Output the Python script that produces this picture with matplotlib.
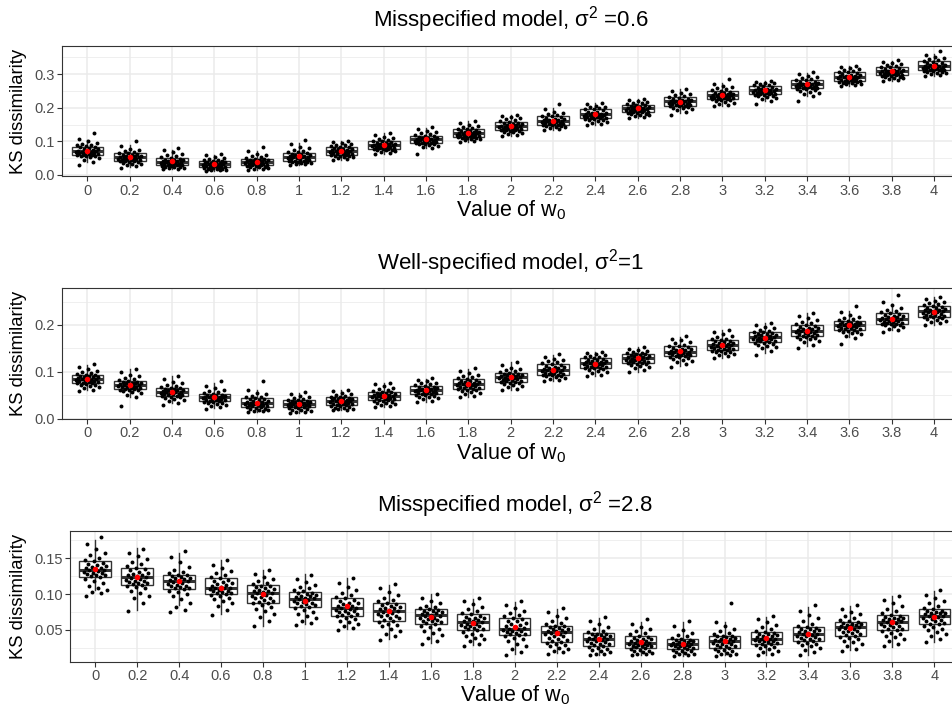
import numpy as np
import matplotlib
matplotlib.use("Agg")
import matplotlib.pyplot as plt

plt.rcParams['font.family'] = ['Liberation Sans', 'DejaVu Sans']
plt.rcParams['mathtext.default'] = 'regular'

w0 = ["0", "0.2", "0.4", "0.6", "0.8", "1", "1.2", "1.4", "1.6", "1.8", "2",
      "2.2", "2.4", "2.6", "2.8", "3", "3.2", "3.4", "3.6", "3.8", "4"]

# ---- panel 1: misspecified, sigma^2 = 0.6 ----
q1_a = [.059, .042, .029, .023, .029, .042, .059, .078, .095, .113, .134,
        .150, .169, .187, .206, .226, .240, .258, .279, .297, .312]
med_a = [.070, .053, .040, .032, .039, .054, .071, .089, .106, .125, .146,
         .162, .182, .198, .219, .238, .253, .270, .293, .309, .325]
q3_a = [.083, .064, .050, .042, .049, .065, .083, .100, .117, .136, .159,
        .175, .196, .209, .231, .251, .266, .283, .307, .322, .338]
wlo_a = [.040, .025, .017, .013, .015, .030, .045, .062, .080, .098, .115,
         .135, .150, .170, .185, .205, .220, .235, .265, .280, .295]
whi_a = [.105, .090, .075, .060, .072, .095, .100, .125, .140, .160, .180,
         .200, .215, .225, .255, .275, .280, .305, .325, .340, .360]
mean_a = [.071, .053, .041, .033, .040, .055, .071, .090, .107, .125, .145,
          .162, .181, .200, .218, .237, .252, .271, .291, .309, .324]
# jittered observations, in thousandths
pts_a = [
    [30, 40, 46, 50, 53, 55, 56, 57, 58, 59, 60, 62, 63, 64, 65, 66, 67, 68, 69, 70, 71, 72, 74, 76, 78, 80, 82, 84, 86, 88, 90, 93, 96, 100, 108, 125],
    [22, 26, 29, 32, 34, 36, 38, 40, 41, 42, 43, 44, 45, 46, 47, 48, 49, 50, 51, 52, 53, 54, 55, 56, 57, 58, 60, 62, 64, 66, 68, 71, 74, 78, 86, 100],
    [17, 19, 21, 22, 23, 24, 25, 26, 28, 29, 30, 31, 32, 33, 34, 35, 36, 37, 38, 39, 40, 41, 42, 43, 44, 45, 46, 48, 50, 52, 55, 58, 62, 67, 74, 80],
    [13, 14, 15, 16, 17, 18, 19, 20, 22, 23, 24, 25, 26, 27, 28, 29, 30, 31, 32, 33, 34, 35, 36, 37, 38, 39, 40, 41, 42, 44, 46, 48, 51, 54, 58, 63],
    [15, 17, 19, 21, 23, 24, 25, 26, 28, 29, 30, 31, 32, 33, 34, 35, 36, 37, 38, 39, 40, 41, 42, 43, 44, 45, 46, 47, 49, 51, 53, 56, 59, 63, 70, 83],
    [30, 32, 34, 36, 37, 38, 39, 40, 41, 42, 43, 45, 46, 47, 48, 50, 51, 52, 53, 54, 55, 56, 57, 58, 60, 61, 63, 65, 67, 69, 72, 75, 79, 84, 92, 105],
    [45, 48, 50, 52, 54, 55, 56, 57, 58, 59, 61, 62, 63, 64, 66, 67, 68, 69, 70, 71, 72, 74, 75, 76, 77, 78, 80, 82, 84, 86, 88, 90, 92, 95, 98, 102],
    [62, 66, 69, 71, 73, 74, 75, 76, 77, 78, 79, 80, 81, 82, 83, 84, 85, 86, 87, 88, 89, 90, 91, 92, 93, 94, 96, 98, 100, 102, 104, 107, 110, 114, 119, 126],
    [62, 80, 84, 87, 89, 91, 92, 93, 94, 95, 96, 97, 98, 99, 100, 101, 102, 103, 104, 105, 106, 107, 108, 109, 110, 111, 113, 115, 117, 119, 121, 124, 127, 131, 136, 142],
    [98, 101, 104, 106, 108, 109, 110, 111, 112, 113, 114, 115, 116, 117, 118, 119, 120, 122, 123, 124, 125, 126, 127, 128, 129, 130, 132, 134, 136, 138, 140, 143, 146, 150, 155, 160],
    [115, 119, 122, 125, 127, 129, 130, 132, 133, 134, 135, 136, 137, 138, 139, 140, 142, 143, 144, 145, 146, 147, 148, 150, 151, 152, 154, 156, 159, 161, 163, 166, 169, 172, 176, 180],
    [135, 138, 140, 142, 144, 145, 146, 148, 149, 150, 151, 152, 153, 154, 155, 156, 158, 159, 160, 161, 162, 163, 164, 165, 167, 168, 170, 172, 175, 177, 179, 182, 185, 189, 196, 210],
    [150, 153, 156, 159, 161, 163, 165, 167, 168, 169, 170, 171, 173, 174, 175, 176, 177, 178, 179, 180, 181, 182, 183, 184, 186, 187, 189, 192, 195, 197, 199, 201, 203, 206, 210, 215],
    [170, 173, 176, 178, 180, 182, 183, 185, 186, 187, 188, 189, 190, 191, 192, 193, 194, 195, 196, 197, 198, 199, 200, 201, 202, 203, 205, 207, 209, 211, 213, 215, 217, 219, 222, 226],
    [180, 188, 192, 195, 198, 200, 202, 204, 205, 206, 207, 208, 209, 210, 211, 212, 213, 214, 216, 217, 218, 219, 220, 221, 222, 223, 225, 227, 230, 232, 235, 238, 241, 245, 250, 256],
    [205, 209, 212, 215, 218, 220, 222, 224, 225, 226, 227, 228, 229, 230, 231, 232, 233, 234, 236, 237, 238, 239, 240, 241, 242, 243, 245, 247, 250, 252, 255, 258, 262, 266, 272, 285],
    [210, 220, 225, 229, 232, 234, 236, 238, 239, 240, 241, 242, 243, 244, 245, 246, 247, 248, 250, 251, 252, 253, 254, 255, 256, 257, 259, 261, 265, 267, 269, 271, 273, 275, 278, 281],
    [220, 235, 240, 244, 248, 251, 253, 255, 257, 258, 259, 260, 261, 262, 263, 264, 265, 266, 267, 268, 269, 270, 271, 272, 273, 274, 276, 278, 282, 284, 286, 289, 292, 296, 300, 306],
    [265, 268, 270, 272, 274, 275, 276, 277, 278, 279, 280, 281, 282, 284, 285, 286, 288, 289, 291, 292, 293, 294, 295, 296, 298, 299, 301, 303, 306, 308, 310, 312, 315, 318, 321, 326],
    [280, 283, 286, 288, 290, 292, 293, 295, 296, 297, 298, 299, 300, 301, 302, 303, 304, 305, 306, 307, 308, 309, 310, 311, 313, 314, 316, 318, 321, 323, 325, 327, 330, 333, 336, 341],
    [295, 298, 301, 303, 305, 307, 308, 310, 311, 312, 313, 314, 315, 316, 317, 318, 319, 320, 322, 323, 324, 325, 326, 327, 329, 330, 332, 334, 337, 339, 341, 344, 347, 351, 357, 368],
]

# ---- panel 2: well-specified, sigma^2 = 1 ----
q1_b = [.076, .063, .049, .037, .025, .024, .028, .0386, .0515, .064, .0786,
        .094, .1086, .119, .133, .146, .1636, .1756, .190, .203, .218]
med_b = [.085, .072, .057, .045, .033, .031, .037, .048, .060, .074, .088,
         .104, .118, .129, .143, .157, .174, .188, .199, .213, .229]
q3_b = [.094, .081, .066, .052, .043, .039, .045, .057, .069, .084, .097,
        .1157, .1285, .138, .154, .167, .184, .199, .209, .225, .241]
wlo_b = [.060, .045, .033, .022, .015, .012, .018, .025, .035, .045, .060,
         .080, .090, .100, .112, .130, .140, .155, .175, .190, .200]
whi_b = [.115, .105, .090, .075, .060, .055, .060, .075, .085, .105, .120,
         .135, .142, .152, .175, .190, .205, .225, .230, .245, .260]
mean_b = [.084, .071, .0565, .045, .033, .030, .0365, .0486, .0615, .0736, .0886,
          .104, .117, .1285, .144, .158, .173, .188, .200, .2135, .2285]
pts_b = [
    [58, 62, 65, 67, 69, 71, 72, 74, 75, 76, 77, 78, 79, 80, 80, 81, 82, 83, 84, 85, 86, 87, 88, 89, 89, 90, 91, 92, 94, 96, 98, 100, 102, 105, 110, 117],
    [27, 45, 50, 54, 56, 58, 60, 61, 62, 63, 64, 65, 66, 67, 67, 68, 69, 70, 71, 72, 73, 74, 75, 76, 76, 77, 78, 79, 81, 83, 85, 87, 90, 94, 99, 105],
    [28, 33, 37, 40, 42, 44, 45, 47, 48, 49, 50, 51, 52, 53, 53, 54, 55, 56, 57, 57, 58, 59, 60, 61, 62, 63, 64, 65, 66, 68, 70, 72, 75, 79, 84, 90],
    [20, 24, 27, 29, 31, 33, 34, 35, 36, 37, 38, 39, 40, 40, 41, 42, 43, 44, 45, 45, 46, 47, 47, 48, 49, 50, 51, 51, 52, 54, 56, 58, 61, 65, 70, 80],
    [15, 16, 17, 18, 19, 20, 21, 22, 24, 25, 26, 27, 28, 28, 29, 30, 31, 32, 33, 33, 34, 35, 36, 37, 38, 39, 41, 42, 43, 45, 47, 49, 52, 55, 60, 80],
    [12, 13, 15, 16, 18, 19, 20, 22, 23, 24, 25, 26, 26, 27, 28, 29, 29, 30, 31, 31, 32, 33, 34, 35, 35, 36, 37, 38, 39, 40, 42, 44, 46, 49, 53, 57],
    [18, 19, 20, 21, 22, 23, 24, 26, 27, 28, 29, 30, 31, 32, 33, 34, 35, 36, 37, 37, 38, 39, 40, 41, 42, 43, 44, 44, 45, 47, 49, 51, 53, 55, 58, 61],
    [25, 27, 29, 31, 33, 34, 35, 37, 38, 39, 40, 41, 42, 43, 44, 45, 46, 47, 48, 48, 49, 50, 51, 52, 53, 54, 55, 56, 57, 59, 61, 63, 66, 69, 73, 77],
    [35, 38, 41, 43, 45, 47, 48, 50, 51, 52, 53, 54, 55, 55, 56, 57, 58, 59, 60, 60, 61, 62, 63, 64, 65, 66, 67, 68, 69, 71, 73, 75, 77, 80, 83, 87],
    [45, 49, 52, 55, 57, 59, 60, 62, 63, 64, 65, 66, 67, 68, 69, 70, 71, 72, 73, 74, 75, 76, 77, 78, 79, 80, 81, 82, 84, 86, 88, 90, 93, 97, 101, 107],
    [60, 64, 67, 70, 72, 74, 75, 77, 78, 79, 80, 81, 82, 83, 84, 85, 86, 87, 87, 88, 89, 90, 91, 92, 93, 94, 95, 96, 97, 99, 101, 103, 106, 109, 114, 120],
    [80, 83, 85, 87, 89, 90, 91, 92, 93, 94, 95, 96, 97, 98, 99, 100, 101, 102, 103, 104, 105, 106, 107, 108, 110, 111, 113, 114, 116, 118, 120, 122, 125, 128, 132, 137],
    [90, 94, 97, 100, 102, 104, 105, 107, 108, 109, 110, 111, 112, 113, 114, 115, 116, 117, 118, 118, 119, 120, 121, 122, 123, 125, 126, 127, 129, 131, 132, 134, 136, 138, 140, 143],
    [100, 104, 107, 110, 112, 114, 116, 117, 118, 119, 120, 121, 122, 123, 124, 125, 126, 127, 128, 129, 130, 131, 132, 133, 134, 135, 136, 137, 138, 140, 141, 143, 145, 147, 149, 152],
    [110, 116, 120, 123, 126, 128, 130, 131, 132, 133, 134, 135, 136, 137, 138, 139, 140, 141, 142, 143, 144, 145, 146, 147, 148, 149, 151, 152, 154, 156, 158, 161, 164, 167, 171, 176],
    [130, 133, 136, 138, 140, 142, 143, 144, 145, 146, 147, 148, 149, 150, 151, 152, 153, 155, 156, 157, 158, 159, 160, 161, 162, 163, 165, 166, 167, 169, 171, 174, 177, 180, 184, 190],
    [135, 145, 150, 153, 156, 158, 160, 161, 162, 164, 165, 166, 167, 168, 169, 170, 171, 172, 173, 174, 175, 176, 177, 178, 179, 180, 181, 182, 184, 186, 188, 190, 193, 196, 200, 205],
    [150, 158, 163, 166, 169, 171, 173, 174, 175, 176, 177, 178, 179, 181, 182, 183, 184, 185, 187, 188, 189, 190, 191, 192, 193, 194, 196, 197, 199, 201, 204, 207, 210, 214, 219, 225],
    [160, 172, 177, 180, 183, 185, 186, 188, 189, 190, 191, 192, 193, 194, 195, 196, 197, 198, 199, 199, 200, 201, 202, 203, 204, 205, 206, 207, 209, 211, 213, 215, 218, 222, 228, 240],
    [185, 189, 192, 195, 197, 199, 200, 201, 202, 203, 204, 205, 206, 207, 208, 209, 210, 211, 212, 213, 214, 215, 216, 218, 219, 220, 222, 223, 225, 227, 230, 233, 237, 242, 250, 265],
    [200, 204, 207, 209, 211, 213, 214, 216, 217, 218, 219, 220, 221, 222, 223, 225, 226, 227, 228, 229, 230, 231, 232, 233, 234, 236, 237, 239, 241, 243, 245, 247, 250, 252, 256, 260],
]

# ---- panel 3: misspecified, sigma^2 = 2.8 ----
q1_c = [.1236, .1128, .107, .100, .088, .0817, .070, .0626, .059, .050, .043,
        .0333, .028, .0249, .0235, .025, .0305, .0346, .0416, .050, .0584]
med_c = [.133, .1236, .118, .108, .101, .0937, .081, .077, .071, .061, .052,
         .0467, .037, .032, .0305, .0346, .037, .0444, .0538, .0616, .0696]
q3_c = [.1464, .137, .127, .122, .1124, .1035, .0943, .088, .079, .072, .0668,
        .0556, .0453, .0416, .037, .042, .0472, .0538, .0616, .071, .079]
wlo_c = [.1059, .078, .085, .072, .0556, .058, .051, .038, .032, .029, .0165,
         .0174, .015, .015, .014, .0145, .015, .015, .022, .0267, .0337]
whi_c = [.1757, .164, .157, .148, .133, .128, .122, .113, .100, .093, .0895,
         .079, .066, .0607, .061, .061, .0686, .0826, .0835, .0975, .105]
mean_c = [.1347, .124, .118, .109, .100, .091, .0835, .076, .0686, .0593, .0538,
          .0453, .037, .0333, .031, .035, .0384, .0444, .0523, .0607, .0677]
pts_c = [
    [98, 101, 103, 106, 109, 112, 115, 118, 121, 124, 125, 126, 127, 128, 129, 130, 131, 132, 133, 134, 135, 136, 137, 138, 139, 140, 142, 144, 146, 148, 151, 154, 158, 163, 170, 180],
    [77, 88, 94, 98, 102, 105, 108, 110, 112, 113, 114, 115, 116, 117, 118, 119, 120, 121, 123, 124, 125, 126, 127, 128, 130, 131, 133, 135, 137, 139, 142, 145, 149, 153, 158, 163],
    [75, 78, 82, 88, 93, 97, 100, 103, 105, 107, 108, 109, 110, 111, 112, 113, 114, 116, 117, 118, 119, 120, 121, 122, 123, 124, 125, 126, 127, 129, 131, 134, 138, 145, 152, 160],
    [71, 78, 83, 87, 90, 93, 95, 97, 99, 100, 101, 102, 103, 104, 105, 106, 107, 108, 108, 109, 110, 112, 113, 114, 116, 117, 119, 120, 122, 124, 126, 129, 132, 136, 141, 148],
    [55, 62, 68, 72, 76, 79, 82, 85, 87, 88, 89, 91, 92, 94, 95, 96, 98, 99, 101, 102, 103, 104, 105, 106, 107, 108, 110, 111, 112, 114, 116, 118, 121, 124, 128, 134],
    [57, 60, 63, 66, 69, 72, 75, 78, 80, 82, 83, 85, 86, 87, 88, 89, 90, 92, 93, 94, 95, 96, 97, 98, 99, 100, 101, 102, 104, 106, 108, 110, 113, 117, 121, 127],
    [50, 53, 56, 59, 61, 63, 65, 67, 69, 70, 71, 72, 74, 75, 76, 77, 78, 79, 80, 81, 82, 83, 84, 86, 87, 88, 90, 92, 94, 96, 99, 102, 106, 110, 115, 122],
    [36, 41, 45, 49, 52, 55, 57, 59, 61, 63, 64, 66, 67, 69, 70, 71, 72, 74, 75, 77, 78, 79, 80, 81, 82, 83, 85, 86, 88, 90, 92, 95, 99, 103, 108, 114],
    [30, 35, 39, 43, 46, 49, 52, 54, 56, 59, 60, 61, 62, 63, 64, 65, 66, 67, 69, 70, 71, 72, 73, 74, 75, 76, 77, 78, 79, 80, 82, 84, 87, 90, 94, 100],
    [28, 31, 34, 37, 39, 41, 43, 45, 47, 50, 51, 52, 53, 54, 55, 56, 57, 58, 59, 61, 62, 63, 64, 65, 66, 67, 68, 70, 72, 74, 76, 79, 82, 86, 90, 95],
    [15, 19, 23, 27, 31, 34, 37, 39, 41, 43, 44, 45, 46, 47, 48, 49, 50, 51, 52, 53, 54, 56, 57, 59, 60, 62, 63, 65, 67, 69, 71, 74, 77, 81, 85, 90],
    [17, 19, 21, 23, 25, 27, 29, 30, 32, 33, 35, 36, 38, 39, 41, 42, 44, 45, 46, 47, 48, 49, 50, 51, 52, 53, 54, 55, 56, 58, 60, 63, 66, 70, 75, 80],
    [15, 16, 17, 19, 20, 22, 23, 25, 26, 28, 29, 30, 31, 32, 33, 34, 35, 36, 37, 37, 38, 39, 40, 41, 42, 43, 44, 44, 45, 47, 49, 51, 54, 58, 62, 68],
    [15, 16, 17, 18, 19, 20, 21, 22, 24, 25, 26, 27, 27, 28, 29, 29, 30, 31, 32, 32, 33, 34, 35, 36, 37, 38, 39, 40, 42, 44, 46, 48, 51, 54, 58, 65],
    [14, 15, 16, 17, 18, 19, 20, 21, 22, 24, 25, 25, 26, 27, 27, 28, 29, 29, 30, 31, 31, 32, 33, 33, 34, 35, 36, 36, 37, 39, 41, 43, 46, 50, 55, 63],
    [14, 15, 16, 17, 18, 20, 21, 22, 24, 25, 26, 27, 28, 29, 30, 31, 32, 33, 34, 35, 35, 36, 37, 38, 39, 40, 41, 41, 42, 44, 46, 49, 52, 56, 61, 88],
    [15, 17, 19, 21, 23, 25, 26, 28, 29, 30, 31, 32, 33, 34, 34, 35, 36, 37, 37, 38, 39, 40, 41, 42, 43, 44, 45, 46, 47, 49, 51, 54, 57, 61, 65, 70],
    [15, 19, 22, 25, 27, 29, 31, 32, 33, 35, 36, 37, 38, 39, 40, 41, 42, 43, 44, 45, 46, 47, 48, 49, 50, 51, 52, 53, 54, 56, 59, 62, 66, 71, 77, 85],
    [20, 24, 28, 31, 33, 35, 37, 39, 40, 42, 43, 44, 46, 47, 48, 49, 51, 52, 53, 54, 55, 56, 57, 57, 58, 59, 60, 61, 62, 64, 66, 69, 72, 75, 79, 85],
    [27, 31, 34, 37, 40, 42, 44, 46, 48, 50, 51, 52, 54, 55, 56, 57, 58, 60, 61, 62, 63, 64, 65, 65, 66, 67, 68, 69, 71, 73, 76, 79, 83, 87, 92, 98],
    [33, 37, 41, 44, 47, 50, 52, 54, 56, 58, 59, 60, 62, 63, 64, 65, 67, 68, 69, 70, 71, 72, 73, 74, 74, 75, 76, 77, 79, 81, 84, 87, 90, 94, 99, 106],
]

W, H = 952, 709
fig = plt.figure(figsize=(W / 100, H / 100), dpi=100)


def panel(left, top, bottom, title, q1, med, q3, wlo, whi, mean, pts,
          ylim, yticks, yminor, ylabels):
    right = 959.5  # panel runs past the right edge of the picture
    ax = fig.add_axes([left / W, 1 - bottom / H, (right - left) / W, (bottom - top) / H])
    x = np.arange(len(w0))
    stats = [dict(med=med[i], q1=q1[i], q3=q3[i], whislo=wlo[i], whishi=whi[i], fliers=[])
             for i in range(len(w0))]
    ax.bxp(stats, positions=x, widths=0.75, showfliers=False, showcaps=False,
           patch_artist=True, manage_ticks=False,
           boxprops=dict(facecolor='white', edgecolor='#333333', linewidth=1.0),
           medianprops=dict(color='#333333', linewidth=2.2),
           whiskerprops=dict(color='#333333', linewidth=1.0), zorder=2)
    for i in range(len(w0)):
        y = np.array(pts[i]) / 1000.0
        jit = ((np.arange(len(y)) * 0.618034 + 0.13) % 1 - 0.5) * 0.56
        ax.scatter(x[i] + jit, y, s=8, color='black', linewidths=0, zorder=3)
    ax.scatter(x, mean, s=16, color='red', linewidths=0, zorder=4)

    ax.set_xlim(-0.6, 20.6)
    ax.set_ylim(*ylim)
    ax.set_xticks(x)
    ax.set_xticklabels(w0)
    ax.set_yticks(yticks)
    ax.set_yticklabels(ylabels)
    ax.set_yticks(yminor, minor=True)
    ax.tick_params(axis='y', which='minor', length=0)
    ax.grid(True, which='major', color='#EBEBEB', linewidth=1.1, zorder=0)
    ax.grid(True, which='minor', axis='y', color='#EBEBEB', linewidth=0.55, zorder=0)
    ax.set_axisbelow(True)
    ax.tick_params(which='major', length=3.3, width=0.8, color='#333333',
                   labelcolor='#4D4D4D', labelsize=10.5, pad=2)
    for sp in ax.spines.values():
        sp.set_color('#333333')
        sp.set_linewidth(0.8)

    cx = (left + right) / 2 / W
    fig.text(cx, 1 - (top - 19) / H, title, ha='center', va='baseline', fontsize=16)
    fig.text(cx, 1 - (bottom + 40) / H, 'Value of w$_0$', ha='center', va='baseline',
             fontsize=15.5)
    fig.text(18.5 / W, 1 - (top + bottom) / 2 / H, 'KS dissimilarity', rotation=90,
             ha='center', va='center', fontsize=13.3)


panel(62, 45.7, 176.3, 'Misspecified model, σ$^2$ =0.6',
      q1_a, med_a, q3_a, wlo_a, whi_a, mean_a, pts_a,
      (-0.004, 0.385), [0.0, 0.1, 0.2, 0.3], [0.05, 0.15, 0.25, 0.35],
      ["0.0", "0.1", "0.2", "0.3"])
panel(62, 288, 419, 'Well-specified model, σ$^2$=1',
      q1_b, med_b, q3_b, wlo_b, whi_b, mean_b, pts_b,
      (-0.001, 0.279), [0.0, 0.1, 0.2], [0.05, 0.15, 0.25],
      ["0.0", "0.1", "0.2"])
panel(70, 530.7, 661.7, 'Misspecified model, σ$^2$ =2.8',
      q1_c, med_c, q3_c, wlo_c, whi_c, mean_c, pts_c,
      (0.0057, 0.1885), [0.05, 0.10, 0.15], [0.025, 0.075, 0.125, 0.175],
      ["0.05", "0.10", "0.15"])

fig.savefig("out.png", dpi=100)
